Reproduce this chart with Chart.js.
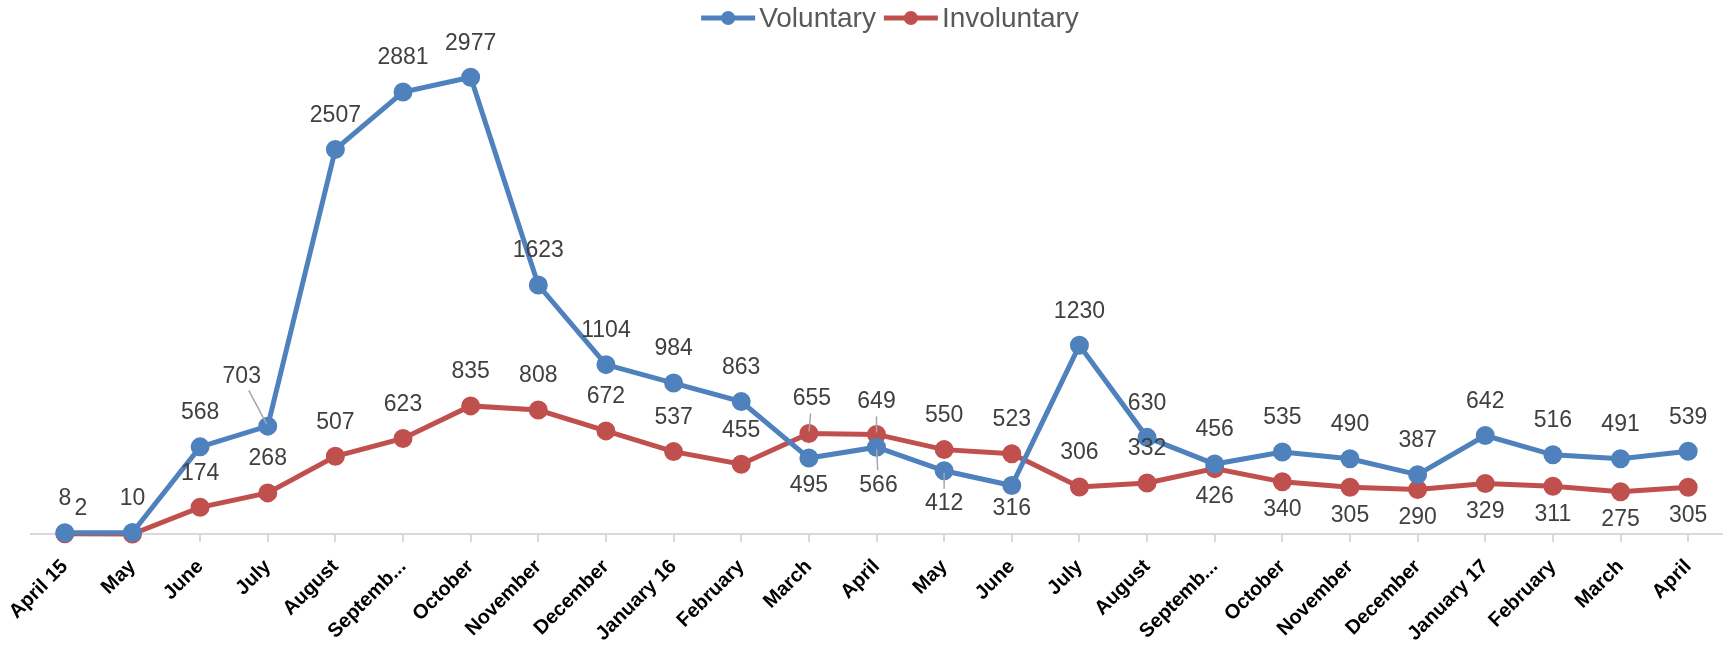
<!DOCTYPE html>
<html>
<head>
<meta charset="utf-8">
<title>Voluntary vs Involuntary</title>
<script src="https://cdn.jsdelivr.net/npm/chart.js@4.4.0/dist/chart.umd.min.js"></script>
<style>
    html, body { margin: 0; padding: 0; background: #ffffff; }
    #wrap { width: 1734px; height: 646px; position: relative; }
</style>
</head>
<body>
<div id="wrap"><canvas id="turnoverChart"></canvas></div>
<script>
// Monthly data, April 2015 - April 2017
const months = ['April 15', 'May', 'June', 'July', 'August', 'September', 'October', 'November', 'December',
    'January 16', 'February', 'March', 'April', 'May', 'June', 'July', 'August', 'September', 'October',
    'November', 'December', 'January 17', 'February', 'March', 'April'];

const voluntary = [8, 10, 568, 703, 2507, 2881, 2977, 1623, 1104, 984, 863, 495, 566, 412, 316,
    1230, 630, 456, 535, 490, 387, 642, 516, 491, 539];

const involuntary = [2, 0, 174, 268, 507, 623, 835, 808, 672, 537, 455, 655, 649, 550, 523,
    306, 332, 426, 340, 305, 290, 329, 311, 275, 305];

const seriesNames = ['Voluntary', 'Involuntary'];
const seriesColors = ['#4f81bd', '#c0504d'];

// Draws the value labels next to each point (Excel style)
const valueLabels = {
    id: 'valueLabels',
    afterDatasetsDraw(chart, args, opts) {
        const ctx = chart.ctx;
        ctx.save();
        ctx.font = opts.font;
        ctx.fillStyle = opts.color;
        ctx.textAlign = 'center';
        ctx.textBaseline = 'middle';
        chart.data.datasets.forEach((ds, di) => {
            const meta = chart.getDatasetMeta(di);
            meta.data.forEach((pt, i) => {
                const v = ds.data[i];
                if (!v) return;
                const below = (opts.below[di] || []).includes(i);
                const ov = (opts.overrides[di] || {})[i] || {};
                const dx = ov.dx || 0;
                const dy = ov.dy !== undefined ? ov.dy : (below ? opts.belowGap : opts.aboveGap);
                const lx = pt.x + dx, ly = pt.y + dy;
                if (ov.leader) {
                    const len = Math.hypot(dx, dy);
                    const ux = dx / len, uy = dy / len;
                    ctx.strokeStyle = '#a6a6a6';
                    ctx.lineWidth = 1.5;
                    ctx.beginPath();
                    ctx.moveTo(pt.x + ux * 2, pt.y + uy * 2);
                    ctx.lineTo(lx - ux * 15, ly - uy * 15);
                    ctx.stroke();
                }
                ctx.fillText(String(v), lx, ly);
            });
        });
        ctx.restore();
    }
};

// Legend with line + dot markers
const lineLegend = {
    id: 'lineLegend',
    afterDraw(chart, args, opts) {
        const ctx = chart.ctx;
        ctx.save();
        ctx.font = opts.font;
        ctx.textBaseline = 'middle';
        const markW = 54, gap = 4, itemGap = 8;
        const widths = seriesNames.map(n => markW + gap + ctx.measureText(n).width);
        const total = widths.reduce((a, b) => a + b, 0) + itemGap * (widths.length - 1);
        let x = opts.centerX - total / 2;
        const y = opts.y;
        seriesNames.forEach((name, i) => {
            ctx.strokeStyle = seriesColors[i];
            ctx.lineWidth = 5;
            ctx.beginPath();
            ctx.moveTo(x, y);
            ctx.lineTo(x + markW, y);
            ctx.stroke();
            ctx.fillStyle = seriesColors[i];
            ctx.beginPath();
            ctx.arc(x + markW / 2, y, 7, 0, Math.PI * 2);
            ctx.fill();
            ctx.fillStyle = opts.color;
            ctx.textAlign = 'left';
            ctx.fillText(name, x + markW + gap, y + 1);
            x += widths[i] + itemGap;
        });
        ctx.restore();
    }
};

const ctx = document.getElementById('turnoverChart').getContext('2d');
new Chart(ctx, {
    type: 'line',
    data: {
        labels: months,
        datasets: [
            {
                label: seriesNames[0],
                data: voluntary,
                borderColor: seriesColors[0],
                backgroundColor: seriesColors[0],
                borderWidth: 5,
                pointRadius: 7,
                pointHoverRadius: 7,
                tension: 0,
                clip: false
            },
            {
                label: seriesNames[1],
                data: involuntary,
                borderColor: seriesColors[1],
                backgroundColor: seriesColors[1],
                borderWidth: 5,
                pointRadius: 7,
                pointHoverRadius: 7,
                tension: 0,
                clip: false
            }
        ]
    },
    options: {
        responsive: true,
        maintainAspectRatio: false,
        animation: false,
        layout: {
            padding: { top: 40, left: 31, right: 0, bottom: 0 }
        },
        scales: {
            x: {
                offset: true,
                afterFit: function(scale) {
                    // keep the plot area the same size as the original
                    scale.height = 112;
                    scale.paddingLeft = 0;
                    scale.paddingRight = 0;
                },
                grid: {
                    drawOnChartArea: false,
                    color: '#d9d9d9',
                    lineWidth: 2,
                    tickLength: 8
                },
                border: { color: '#d9d9d9', width: 2 },
                ticks: {
                    autoSkip: false,
                    maxRotation: 45,
                    minRotation: 45,
                    padding: 13,
                    color: '#000000',
                    font: { family: '"Liberation Sans", Arial, sans-serif', size: 20, weight: 'bold' },
                    callback: function(value) {
                        const l = this.getLabelForValue(value);
                        return l === 'September' ? 'Septemb...' : l;
                    }
                }
            },
            y: {
                display: false,
                min: 0,
                max: 3220
            }
        },
        plugins: {
            legend: { display: false },
            tooltip: { enabled: false },
            valueLabels: {
                font: '23px "Liberation Sans", Arial, sans-serif',
                color: '#404040',
                aboveGap: -34,
                belowGap: 28,
                below: {
                    0: [11, 12, 13, 14],
                    1: [17, 18, 19, 20, 21, 22, 23, 24]
                },
                overrides: {
                    0: {
                        3: { dx: -26, dy: -49, leader: true },
                        12: { dx: 2, dy: 38, leader: true },
                        13: { dy: 33, leader: true },
                        14: { dy: 23 }
                    },
                    1: {
                        0: { dx: 16, dy: -25 },
                        11: { dx: 3, dy: -35, leader: true },
                        12: { dy: -33, leader: true }
                    }
                }
            },
            lineLegend: {
                font: '28px "Liberation Sans", Arial, sans-serif',
                color: '#595959',
                centerX: 890,
                y: 18
            }
        }
    },
    plugins: [valueLabels, lineLegend]
});
</script>
</body>
</html>
